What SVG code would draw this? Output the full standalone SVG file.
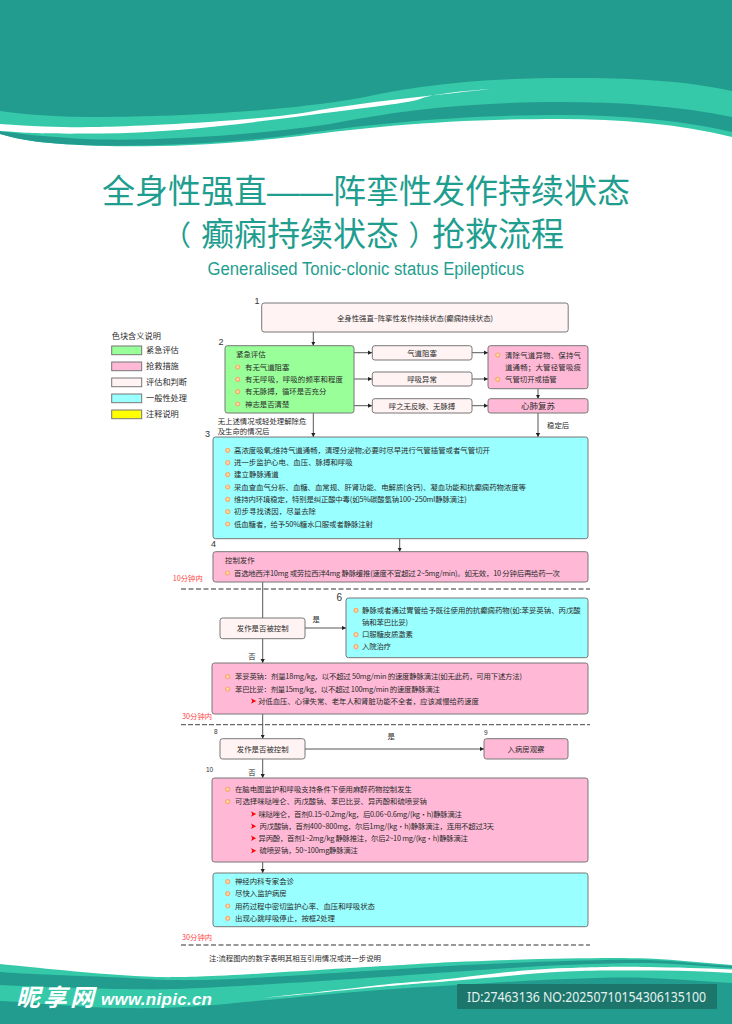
<svg xmlns="http://www.w3.org/2000/svg" width="732" height="1024" viewBox="0 0 732 1024">
<style>
text{font-family:"Noto Sans CJK SC","Noto Sans",sans-serif;fill:#2a2a2a;font-size:7.4px}
.box{stroke:#777;stroke-width:1}
.eval{fill:#fff3f3}.urg{fill:#99ff99}.res{fill:#ffb9d6}.gen{fill:#99ffff}.note{fill:#ffff00}
.c{text-anchor:middle}
.t{font-size:33px;fill:#1f9e8f;font-weight:400}
.red{fill:#ff4444;font-size:7.3px}
.n{font-family:"Liberation Sans",sans-serif;font-size:9px;fill:#333}
.lg{font-size:8.2px}
.con{fill:none;stroke:#444;stroke-width:.9;marker-end:url(#ah)}
.nl{fill:none;stroke:#444;stroke-width:.9}
.d1{stroke:#777;stroke-width:1.3;stroke-dasharray:5 2.5;fill:none}
.d2{stroke:#444;stroke-width:1;stroke-dasharray:5 2;fill:none}
.lt{fill:#36c9a9}.dk{fill:#239c90}
</style>
<defs>
<marker id="ah" markerWidth="5" markerHeight="5" refX="4" refY="2.500" orient="auto" markerUnits="userSpaceOnUse"><path d="M0 .4L4 2.500L0 4.600z" fill="#222"/></marker>
<g id="b"><circle r="2" fill="#ffdcae" stroke="#f7a86a" stroke-width="1.200"/></g>
<path id="r" d="M-2.500-2.800L2.600 0L-2.500 2.800L-1.200 0z" fill="#f00"/>
</defs>

<g id="top-banner">
<path class="lt" d="M0 0H732V137C680 124 620 119 560 119C450 119 370 127 300 136C220 146 130 148 80 145C40 143 20 140 0 134z"/>
<path class="dk" d="M0 134C20 140 40 143 80 145C130 147 220 145 300 134C370 124 460 115 560 115C620 115 680 120 732 132V117C680 106 620 102 560 102C470 102 400 110 330 124C250 136 130 143 70 138C40 136 20 134 0 131z"/>
<path class="dk" d="M0 0H732V91C680 80 630 78 570 78C480 78 420 85 360 98C280 112 170 117 100 117C60 117 30 115 0 111z"/>
<path fill="#fff" d="M0 124C40 127 70 127.500 100 127S250 122 310 111.700S420 97 490 89C450 92 430 95 420 99S370 107 310 115S170 133 100 133.500S30 133 0 131z"/>
</g>

<g id="title">
<text class="t" y="203"><tspan x="102">全身性强直</tspan><tspan x="267" style="font-family:'Liberation Sans',sans-serif">——</tspan><tspan x="333">阵挛性发作持续状态</tspan></text>
<text class="t" y="246"><tspan x="163" style="font-size:28px">（</tspan><tspan x="201">癫痫持续状态</tspan><tspan x="408.500" style="font-size:28px">）</tspan><tspan x="432">抢救流程</tspan></text>
<text x="207.500" y="275" textLength="316.500" lengthAdjust="spacingAndGlyphs" style="font-family:'Liberation Sans',sans-serif;font-size:18px;fill:#1f9e8f">Generalised Tonic-clonic status Epilepticus</text>
</g>

<g id="legend">
<text class="lg" x="111.700" y="339">色块含义说明</text>
<rect class="box urg" x="111.700" y="346" width="30" height="8.700"/><text class="lg" x="146" y="353">紧急评估</text>
<rect class="box res" x="111.700" y="362" width="30" height="8.700"/><text class="lg" x="146" y="369">抢救措施</text>
<rect class="box eval" x="111.700" y="378" width="30" height="8.700"/><text class="lg" x="146" y="385">评估和判断</text>
<rect class="box gen" x="111.700" y="394" width="30" height="8.700"/><text class="lg" x="146" y="401">一般性处理</text>
<rect class="box note" x="111.700" y="410" width="30" height="8.700"/><text class="lg" x="146" y="417">注释说明</text>
</g>

<g id="connectors">
<path class="con" d="M313.300 332V345.700"/>
<path class="con" d="M354 352.700H372"/><path class="con" d="M354 379H372"/><path class="con" d="M354 405.700H372"/>
<path class="con" d="M472 352.700H488"/><path class="con" d="M472 379H488"/><path class="con" d="M472 405.700H488"/>
<path class="con" d="M538 388.700V398.700"/>
<path class="con" d="M538 413V437"/>
<path class="con" d="M313.300 413V437"/>
<path class="con" d="M399.700 538.700V551.700"/>
<path class="nl" d="M262.700 582V618"/>
<path class="con" d="M305 628H346"/>
<path class="con" d="M262.700 638.700V663"/>
<path class="con" d="M262.700 714V738.700"/>
<path class="con" d="M305 749H484"/>
<path class="con" d="M262.700 759V778"/>
<path class="con" d="M262.700 862V873"/>
</g>

<g id="time-lines">
<path class="d1" d="M181 589H590"/>
<path class="d2" d="M181 724.700H590"/>
<path class="d1" d="M181 945H590"/>
<text class="red" x="172.700" y="581">10分钟内</text>
<text class="red" x="182" y="719">30分钟内</text>
<text class="red" x="182" y="940">30分钟内</text>
</g>

<g id="n1"><rect class="box eval" x="261.700" y="303" width="306.500" height="29" rx="2.500"/><text class="c" x="415" y="320.500" textLength="156">全身性强直–阵挛性发作持续状态(癫痫持续状态)</text><text class="n" x="254.500" y="304">1</text></g>

<g id="n2"><rect class="box urg" x="225" y="345.700" width="129" height="67.300" rx="2.500"/>
<text class="n" x="218.500" y="345">2</text>
<text x="236" y="357.300">紧急评估</text>
<use href="#b" x="237.700" y="367"/><text x="245" y="369.600">有无气道阻塞</text>
<use href="#b" x="237.700" y="379.300"/><text x="245" y="381.900" textLength="98">有无呼吸，呼吸的频率和程度</text>
<use href="#b" x="237.700" y="391.700"/><text x="245" y="394.300">有无脉搏，循环是否充分</text>
<use href="#b" x="237.700" y="404"/><text x="245" y="406.600">神志是否清楚</text>
</g>
<g id="lbl-a"><text x="217.700" y="424.300">无上述情况或轻处理解除危</text><text x="217.700" y="434.300">及生命的情况后</text><text x="547" y="427.600">稳定后</text></g>

<g id="m1"><rect class="box eval" x="372.300" y="345.700" width="99.700" height="14.300" rx="2.500"/><text class="c" x="422" y="355.600">气道阻塞</text></g>
<g id="m2"><rect class="box eval" x="372.300" y="372" width="99.700" height="14" rx="2.500"/><text class="c" x="422" y="381.700">呼吸异常</text></g>
<g id="m3"><rect class="box eval" x="372.300" y="398.700" width="99.700" height="14.300" rx="2.500"/><text class="c" x="422" y="408.500">呼之无反映、无脉搏</text></g>

<g id="r1"><rect class="box res" x="488" y="345.700" width="100" height="43" rx="2.500"/>
<use href="#b" x="497.700" y="355"/><text x="505" y="357.600" textLength="76">清除气道异物、保持气</text>
<text x="505" y="369.900" textLength="76">道通畅；大管径管吸痰</text>
<use href="#b" x="497.700" y="379.300"/><text x="505" y="381.900">气管切开或插管</text></g>
<g id="r2"><rect class="box res" x="488" y="398.700" width="100" height="14.300" rx="2.500"/><text class="c" x="538" y="409" style="font-size:8.500px">心肺复苏</text></g>

<g id="n3"><rect class="box gen" x="213" y="437" width="375" height="101.700" rx="2.500"/>
<text class="n" x="205" y="436.500">3</text>
<use href="#b" x="227.700" y="450.300"/><text x="234" y="452.900" textLength="256">高浓度吸氧;维持气道通畅，清理分泌物;必要时尽早进行气管插管或者气管切开</text>
<use href="#b" x="227.700" y="462.700"/><text x="234" y="465.300" textLength="118.700">进一步监护心电、血压、脉搏和呼吸</text>
<use href="#b" x="227.700" y="474.700"/><text x="234" y="477.300" textLength="44.700">建立静脉通道</text>
<use href="#b" x="227.700" y="487"/><text x="234" y="489.600" textLength="292">采血查血气分析、血糖、血常规、肝肾功能、电解质(含钙)、凝血功能和抗癫痫药物浓度等</text>
<use href="#b" x="227.700" y="499.300"/><text x="234" y="501.900" textLength="232.700">维持内环境稳定，特别是纠正酸中毒(如5%碳酸氢钠100~250ml静脉滴注)</text>
<use href="#b" x="227.700" y="511.700"/><text x="234" y="514.300" textLength="82">初步寻找诱因，尽量去除</text>
<use href="#b" x="227.700" y="524"/><text x="234" y="526.600" textLength="139">低血糖者，给予50%糖水口服或者静脉注射</text>
</g>

<g id="n4"><rect class="box res" x="213" y="551.700" width="375" height="30.300" rx="2.500"/>
<text class="n" x="211" y="547">4</text>
<text x="225" y="563.300">控制发作</text>
<use href="#b" x="227.500" y="573"/><text x="234" y="575.600" textLength="326">首选地西泮10mg 或劳拉西泮4mg 静脉缓推(速度不宜超过 2~5mg/min)。如无效，10 分钟后再给药一次</text>
</g>

<g id="n5"><rect class="box eval" x="220" y="618" width="85" height="20.700" rx="2.500"/><text class="c" x="262.700" y="631">发作是否被控制</text></g>
<g id="lbl-b"><text x="312.500" y="621.500">是</text><text x="248.300" y="658.500">否</text><text x="387.500" y="738.500">是</text><text x="248.300" y="775">否</text></g>

<g id="n6"><rect class="box gen" x="346" y="598" width="242" height="59.700" rx="2.500"/>
<text class="n" x="336.500" y="600.500" style="font-size:10px">6</text>
<use href="#b" x="356" y="610.300"/><text x="362" y="612.900" textLength="218.700">静脉或者通过胃管给予既往使用的抗癫痫药物(如:苯妥英钠、丙戊酸</text>
<text x="362" y="624.900" textLength="46">钠和苯巴比妥)</text>
<use href="#b" x="356" y="634.700"/><text x="362" y="637.300" textLength="51">口服糖皮质激素</text>
<use href="#b" x="356" y="646.700"/><text x="362" y="649.300" textLength="29">入院治疗</text>
</g>

<g id="n7"><rect class="box res" x="212" y="663" width="376" height="51" rx="2.500"/>
<use href="#b" x="227.700" y="676.700"/><text x="235" y="679.300" textLength="287">苯妥英钠：剂量18mg/kg，以不超过 50mg/min 的速度静脉滴注(如无此药，可用下述方法)</text>
<use href="#b" x="227.700" y="689"/><text x="235" y="691.600" textLength="205">苯巴比妥：剂量15mg/kg，以不超过 100mg/min 的速度静脉滴注</text>
<use href="#r" x="253.500" y="701"/><text x="258" y="703.600" textLength="221">对低血压、心律失常、老年人和肾脏功能不全者，应该减慢给药速度</text>
</g>

<g id="n8"><rect class="box eval" x="220" y="738.700" width="85" height="20.300" rx="2.500"/><text class="c" x="262.700" y="751.600">发作是否被控制</text><text class="n" x="214" y="734" style="font-size:6.500px">8</text></g>
<g id="n9"><rect class="box res" x="484" y="738.700" width="84" height="20.300" rx="2.500"/><text class="c" x="526" y="751.600">入病房观察</text><text class="n" x="484" y="734.500" style="font-size:6.500px">9</text></g>

<g id="n10"><rect class="box res" x="212" y="778" width="376" height="84" rx="2.500"/>
<text class="n" x="206" y="771.500" style="font-size:6.500px">10</text>
<use href="#b" x="227.700" y="789.300"/><text x="235" y="791.900" textLength="177">在脑电图监护和呼吸支持条件下使用麻醉药物控制发生</text>
<use href="#b" x="227.700" y="801.700"/><text x="235" y="804.300" textLength="192">可选择咪哒唑仑、丙戊酸钠、苯巴比妥、异丙酚和硫喷妥钠</text>
<use href="#r" x="253.500" y="814"/><text x="258.500" y="816.600" textLength="203.500">咪哒唑仑，首剂0.15~0.2mg/kg，后0.06~0.6mg/(kg・h)静脉滴注</text>
<use href="#r" x="253.500" y="826.300"/><text x="259.500" y="828.900" textLength="234.500">丙戊酸钠，首剂400~800mg，尔后1mg/(kg・h)静脉滴注，连用不超过3天</text>
<use href="#r" x="253.500" y="838.300"/><text x="258.500" y="840.900" textLength="209.500">异丙酚，首剂1~2mg/kg 静脉推注，尔后2~10 mg/(kg・h)静脉滴注</text>
<use href="#r" x="253.500" y="850.700"/><text x="259.500" y="853.300" textLength="98.500">硫喷妥钠，50~100mg静脉滴注</text>
</g>

<g id="n11"><rect class="box gen" x="213" y="873" width="375" height="53.700" rx="2.500"/>
<use href="#b" x="227.700" y="881.700"/><text x="235" y="884.300" textLength="59">神经内科专家会诊</text>
<use href="#b" x="227.700" y="893.700"/><text x="235" y="896.300" textLength="51.700">尽快入监护病房</text>
<use href="#b" x="227.700" y="906"/><text x="235" y="908.600" textLength="140">用药过程中密切监护心率、血压和呼吸状态</text>
<use href="#b" x="227.700" y="918.300"/><text x="235" y="920.900" textLength="100">出现心跳呼吸停止，按框2处理</text>
</g>

<text x="209" y="960.600" textLength="172">注:流程图内的数字表明其相互引用情况或进一步说明</text>

<g id="bottom-banner">
<path class="lt" d="M0 964C20 966 87 973 120 975S159 977.800 200 976.500S323 969.500 367 967S433 962.900 466 961.500S536 959 566 958.500S621 957.500 649 958.500S704 963 732 965V1024H0z"/>
<path class="dk" d="M0 972C20 974 87 976 120 977.500S159 980.600 200 980S323 973.600 367 971S433 966.700 466 965S536 961.800 566 961S621 959.200 649 960S704 964.400 732 966V1024H0z"/>
<path class="lt" d="M0 985C20 986 87 988.500 120 989S159 989.800 200 988S323 981 367 978S433 973.200 466 971S536 966.200 566 965S621 962.500 649 963S704 966 732 968V983C704 981.300 677 979 649 978S596 978 566 979S490 983 457 985S400 988.500 367 991S300 997 267 1000S222 1004.500 200 1006S160 1008.500 120 1008S40 1003 0 1001z"/>
<path fill="#fff" d="M256 998.500C290 995 330 991 367 986.500S420 982 457 978S520 969.500 566 968S625 966.500 649 967S705 968 732 969.500V973C705 971 675 970.200 649 970.500S600 970 566 971.500S500 977 457 980.500S410 984 367 988S300 995 256 998.500z"/>
<text x="16" y="1006" textLength="78" lengthAdjust="spacing" style="font-size:24px;font-weight:700;font-style:italic;fill:#fff">昵享网</text>
<text x="101" y="1005" textLength="111" lengthAdjust="spacing" style="font-family:'Liberation Sans',sans-serif;font-size:17px;font-weight:700;font-style:italic;fill:#fff">www.nipic.cn</text>
<rect x="457" y="984" width="260" height="25" rx="1" fill="#1d766c"/>
<text transform="translate(467 1001.500) scale(.88 1)" x="0" y="0" style="font-family:'Noto Sans',sans-serif;font-size:14px;fill:#e4f2ef">ID:27463136 NO:20250710154306135100</text>
</g>
</svg>
